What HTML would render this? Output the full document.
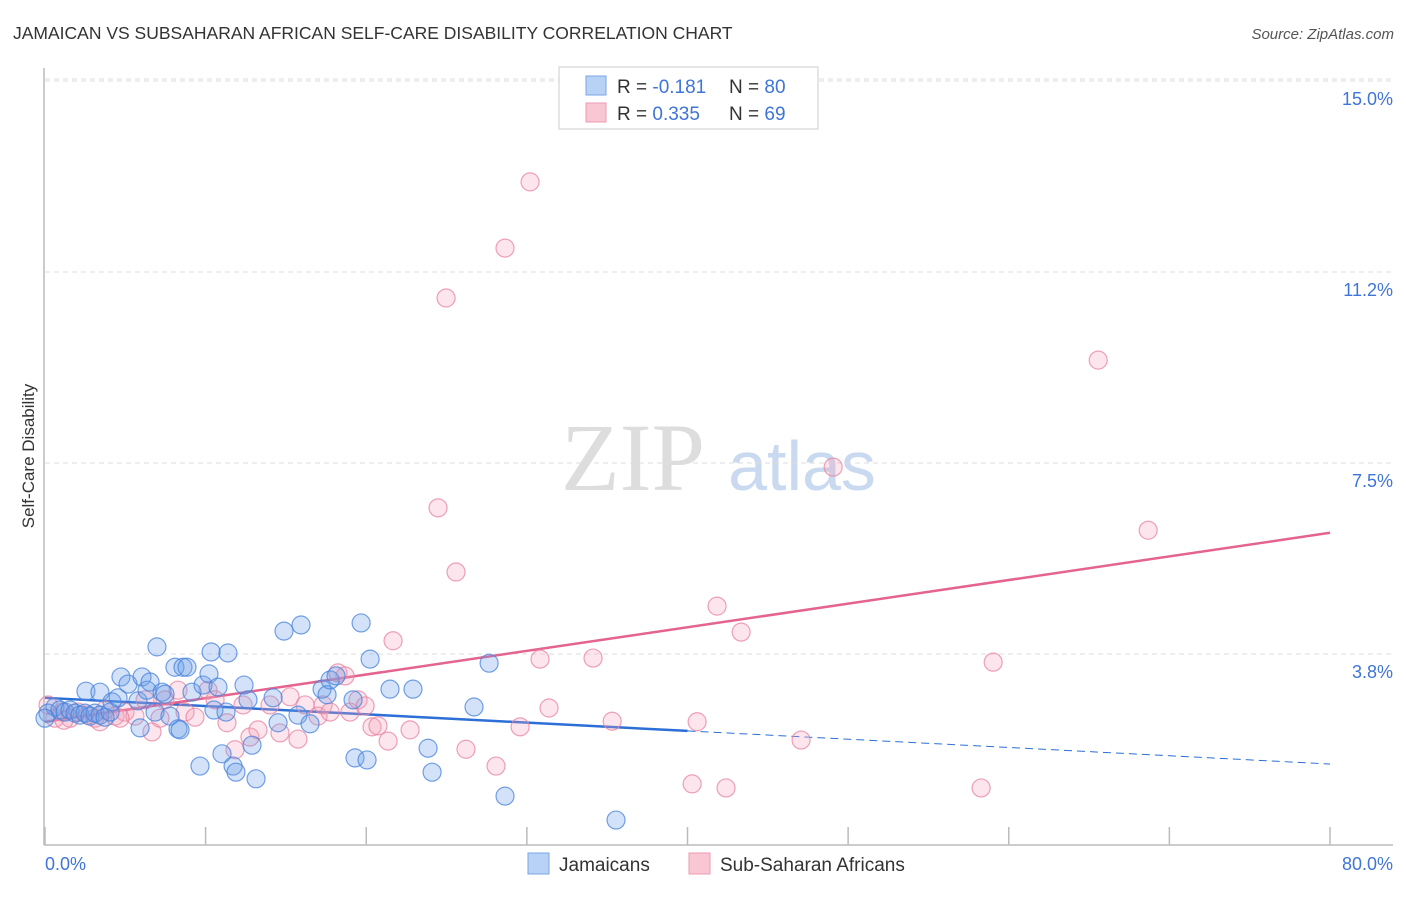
<!DOCTYPE html>
<html><head><meta charset="utf-8"><style>
body{margin:0;background:#fff;font-family:"Liberation Sans",sans-serif}
</style></head><body>
<svg width="1406" height="892" xmlns="http://www.w3.org/2000/svg" id="chart">
<text x="13" y="39" font-size="17.5" fill="#333">JAMAICAN VS SUBSAHARAN AFRICAN SELF-CARE DISABILITY CORRELATION CHART</text>
<text x="1394" y="39" font-size="15" fill="#555" font-style="italic" text-anchor="end">Source: ZipAtlas.com</text>
<g>
<text x="633" y="490" font-size="96" font-family="Liberation Serif,serif" fill="#ddd" text-anchor="middle">ZIP</text>
<text x="802" y="490" font-size="70" fill="#c9d9f0" text-anchor="middle">atlas</text>
</g>
<g id="grid"></g><g id="axes"></g><g id="trends"></g><g id="pts"></g>
<text transform="translate(34,456) rotate(-90)" font-size="17" fill="#333" text-anchor="middle">Self-Care Disability</text>
<g>
<rect x="559" y="67" width="259" height="62" fill="#fff" stroke="#ccc"/>
<rect x="586" y="76" width="20" height="19" fill="#b8d2f5" stroke="#7aa6e6"/>
<rect x="586" y="103" width="20" height="19" fill="#f9c6d4" stroke="#ee9ab3"/>
<text x="617" y="93" font-size="19" fill="#333">R = <tspan fill="#3f74d8">-0.181</tspan><tspan x="729">N = </tspan><tspan fill="#3f74d8">80</tspan></text>
<text x="617" y="120" font-size="19" fill="#333">R = <tspan fill="#3f74d8"> 0.335</tspan><tspan x="729">N = </tspan><tspan fill="#3f74d8">69</tspan></text>
</g>
<g>
<rect x="528" y="853" width="21" height="21" fill="#b8d2f5" stroke="#7aa6e6"/>
<text x="559" y="871" font-size="19" fill="#333">Jamaicans</text>
<rect x="689" y="853" width="21" height="21" fill="#f9c6d4" stroke="#ee9ab3"/>
<text x="720" y="871" font-size="19" fill="#333">Sub-Saharan Africans</text>
</g>
</svg>
<script>
const yTicks=[3.75,7.5,11.25,15];
const yTickLabels=["3.8%","7.5%","11.2%","15.0%"];
const xTicks=[0,10,20,30,40,50,60,70,80];
const xTickLabels=["0.0%","80.0%"];
const blueX=[0.19,0.62,0.93,1.25,1.56,1.87,2.18,2.49,2.80,3.11,3.42,3.74,4.05,2.55,3.42,4.17,4.55,4.73,5.17,5.79,5.92,6.04,6.35,6.54,6.85,6.97,7.29,7.47,7.78,8.09,8.28,8.41,8.59,8.84,9.15,9.65,9.84,10.21,10.34,10.52,10.77,11.02,11.27,11.39,11.71,11.89,12.39,12.64,12.89,13.14,14.20,14.51,14.88,15.75,15.94,16.50,17.25,17.56,17.75,18.12,19.18,19.30,19.68,20.05,20.24,21.48,22.91,23.85,24.10,26.71,27.65,28.64,35.55,0];
const blueY=[2.59,2.71,2.65,2.61,2.65,2.59,2.55,2.59,2.53,2.59,2.55,2.51,2.61,3.02,3.00,2.81,2.89,3.30,3.16,2.83,2.30,3.30,3.04,3.20,2.61,3.89,3.00,2.96,2.53,3.49,2.28,2.26,3.49,3.49,3.00,1.55,3.14,3.36,3.79,2.65,3.10,1.79,2.61,3.77,1.55,1.43,3.14,2.85,1.96,1.30,2.89,2.40,4.20,2.55,4.32,2.38,3.06,2.95,3.24,3.32,2.85,1.71,4.36,1.67,3.65,3.06,3.06,1.90,1.43,2.71,3.57,0.96,0.49,2.49];
const pinkX=[0.19,0.62,1.06,1.56,2.05,2.68,3.11,3.74,4.36,4.98,5.60,6.23,6.66,7.47,8.28,8.72,9.34,10.15,10.59,11.33,11.83,12.33,12.76,13.26,14.01,14.63,15.26,15.75,16.19,17.00,17.31,17.75,18.24,18.68,18.99,19.49,19.93,20.36,20.73,21.36,21.67,22.73,24.47,24.97,25.59,26.21,28.08,28.64,29.58,30.20,30.82,31.38,34.12,35.31,40.29,40.60,41.84,42.40,43.34,47.07,49.07,58.28,59.03,65.57,68.68,1.18,3.42,4.67,7.16];
const pinkY=[2.75,2.49,2.61,2.49,2.61,2.55,2.49,2.65,2.53,2.61,2.53,2.85,2.22,2.85,3.04,2.61,2.51,3.04,2.85,2.40,1.87,2.75,2.12,2.26,2.75,2.20,2.91,2.08,2.75,2.53,2.75,2.61,3.38,3.32,2.61,2.85,2.73,2.32,2.34,2.04,4.01,2.26,6.62,10.74,5.36,1.88,1.55,11.72,2.32,13.02,3.65,2.69,3.67,2.43,1.20,2.42,4.69,1.12,4.18,2.06,7.42,1.12,3.59,9.52,6.18,2.45,2.42,2.49,2.49];
const blueTrend=[2.89,1.59];
const pinkTrend=[2.42,6.13];
const blueSolidEnd=40;
const X0=45,X1=1330,Y0=845,YPX=50.93;
const sx=v=>X0+v*(X1-X0)/80, sy=v=>Y0-v*YPX;
const NS="http://www.w3.org/2000/svg";
function mk(p,t,a){const e=document.createElementNS(NS,t);for(const k in a)e.setAttribute(k,a[k]);document.getElementById(p).appendChild(e);return e;}
yTicks.forEach((v,i)=>{
 const l=mk('grid','line',{x1:45,x2:1393,y1:sy(v),y2:sy(v),stroke:'#ddd','stroke-dasharray':'5,4'});
 
 
 const t=mk('grid','text',{x:1393,y:sy(v)+24,'font-size':18,fill:'#3f74d8','text-anchor':'end'});
 t.textContent=yTickLabels[i];
 
 
});
const gl=mk('grid','line',{x1:45,x2:1393,y1:79,y2:79,stroke:'#ddd','stroke-dasharray':'5,4'});


const ya=mk('axes','line',{x1:44,x2:44,y1:68,y2:845,stroke:'#bbb','stroke-width':1.5});


const xa=mk('axes','line',{x1:44,x2:1393,y1:845,y2:845,stroke:'#bbb','stroke-width':1.5});


xTicks.forEach(v=>{
 const t=mk('axes','line',{x1:sx(v),x2:sx(v),y1:827,y2:845,stroke:'#bbb','stroke-width':1.5});
 
 
});
const xl0=mk('axes','text',{x:45,y:870,'font-size':18,fill:'#3f74d8'});xl0.textContent=xTickLabels[0];


const xl1=mk('axes','text',{x:1393,y:870,'font-size':18,fill:'#3f74d8','text-anchor':'end'});xl1.textContent=xTickLabels[1];


function pts(xs,ys,fill,stroke,name){xs.forEach((x,i)=>{
 const c=mk('pts','circle',{cx:sx(x),cy:sy(ys[i]),r:9,fill:fill,stroke:stroke,'stroke-width':1.2});
 
 
});}
pts(pinkX,pinkY,'rgba(244,160,185,0.28)','rgba(232,130,160,0.75)','point-subsaharan');
pts(blueX,blueY,'rgba(110,160,232,0.3)','rgba(70,130,220,0.75)','point-jamaican');
const bAt=x=>blueTrend[0]+(blueTrend[1]-blueTrend[0])*x/80;
const b1=mk('trends','line',{x1:sx(0),y1:sy(blueTrend[0]),x2:sx(blueSolidEnd),y2:sy(bAt(blueSolidEnd)),stroke:'#2c6fd6','stroke-width':2.5});


const b2=mk('trends','line',{x1:sx(blueSolidEnd),y1:sy(bAt(blueSolidEnd)),x2:sx(80),y2:sy(blueTrend[1]),stroke:'#2c6fd6','stroke-width':1,'stroke-dasharray':'8,5'});


const p1=mk('trends','line',{x1:sx(0),y1:sy(pinkTrend[0]),x2:sx(80),y2:sy(pinkTrend[1]),stroke:'#e4638f','stroke-width':2.5});


</script>
</body></html>
